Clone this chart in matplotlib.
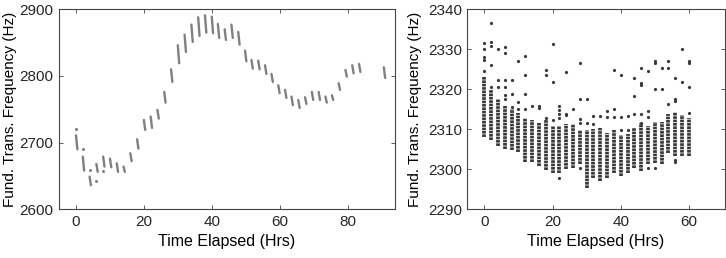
import numpy as np
from matplotlib import pyplot as plt

plt.rcParams['font.family'] = ['Liberation Sans', 'DejaVu Sans']
plt.rcParams['font.size'] = 11

# left panel: one short burst of readings roughly every 2 hrs (start / end of burst)
left_t = [0, 2, 4, 6, 8, 10, 12, 14, 16, 18, 20, 22, 24, 26, 28, 30, 32, 34, 36, 38,
          40, 41.8, 43.8, 45.8, 47.8, 49.8, 51.7, 53.7, 55.7, 57.6, 59.6, 61.6, 63.5,
          65.5, 67.5, 69.5, 71.5, 73.5, 75.4, 77.4, 79.4, 81.4, 83.4, 90.7]
left_hi = [2711, 2679, 2649, 2668, 2679, 2676, 2669, 2664, 2684, 2705, 2734, 2739, 2749,
           2776, 2810, 2846, 2862, 2877, 2888, 2891, 2889, 2878, 2870, 2877, 2866, 2838,
           2824, 2823, 2816, 2803, 2786, 2779, 2769, 2764, 2768, 2776, 2776, 2769, 2771,
           2789, 2809, 2816, 2818, 2813]
left_lo = [2690, 2658, 2636, 2656, 2664, 2663, 2656, 2656, 2672, 2691, 2719, 2722, 2736,
           2760, 2791, 2819, 2836, 2851, 2860, 2865, 2864, 2857, 2854, 2857, 2847, 2822,
           2811, 2810, 2803, 2791, 2774, 2767, 2756, 2752, 2758, 2764, 2764, 2760, 2764,
           2779, 2799, 2804, 2806, 2797]
left_dot_t = [0, 2, 4, 6, 8]
left_dot_f = [2720, 2691, 2659, 2642, 2657]
burst_len = 0.4

# right panel: dense column of readings every 2 hrs plus scattered outliers
right_t = list(range(0, 61, 2))
right_hi = [2323, 2319.8, 2317.5, 2315.7, 2315, 2314, 2312.8, 2312.2, 2311.5, 2312.2,
            2310.7, 2310.8, 2311.3, 2311.3, 2309.7, 2309.7, 2310, 2310.3, 2309, 2309.7,
            2308.6, 2308.8, 2310.3, 2311.5, 2310.7, 2311.9, 2311.9, 2313.8, 2314.3,
            2313.6, 2312.8]
right_lo = [2308, 2307.3, 2305.7, 2305, 2304.8, 2304.2, 2301.9, 2301.9, 2300.7, 2299.7,
            2299, 2299, 2300, 2300.3, 2301.3, 2295.3, 2297.8, 2297.1, 2297.8, 2299,
            2298.3, 2299, 2300.3, 2299.6, 2301.3, 2301.5, 2301.3, 2304, 2303.2, 2303.2,
            2303.2]
out_t = [0, 0, 0, 0, 0,
         2, 2, 2, 2, 2,
         4, 4, 4,
         6, 6, 6, 6, 6, 6,
         8, 8, 8,
         10, 10, 10,
         12, 12, 12, 12,
         14, 16, 16,
         18, 18, 18,
         20, 20, 20,
         22, 22, 22, 22, 22,
         24, 24, 24,
         26,
         28, 28, 28, 28, 28,
         30, 30,
         32, 32, 34, 36, 36,
         38, 38, 38,
         40, 40, 40,
         42, 42,
         44, 44, 44,
         46, 46, 46, 46, 46,
         48, 48, 48, 48,
         50, 50, 50, 50,
         52, 52,
         54, 54, 54,
         56, 56, 56, 56, 56,
         58, 58,
         60, 60, 60, 60]
out_f = [2331.5, 2330, 2328, 2327.3, 2324.5,
         2336.5, 2331.8, 2330.7, 2326, 2320.5,
         2330, 2322.3, 2320.5,
         2330.5, 2329, 2322.3, 2320.5, 2318.5, 2317.5,
         2322.3, 2318.8, 2315.5,
         2327, 2316.8, 2315,
         2328.3, 2323.5, 2318.8, 2315,
         2315.7, 2315.7, 2315.2,
         2324.7, 2323.5, 2312.7,
         2331.2, 2321.7, 2312.3,
         2315.7, 2314.7, 2313.7, 2312.7, 2297.8,
         2324.2, 2313.8, 2313.5,
         2315,
         2326.5, 2317.5, 2312.5, 2311.5, 2300.3,
         2317.5, 2311.5,
         2313.3, 2311.3, 2313.3, 2314.5, 2313.1,
         2324.7, 2315, 2313.1,
         2323.5, 2313.1, 2309.7,
         2313.3, 2309.7,
         2322.8, 2318.2, 2313.8,
         2325.2, 2321.5, 2321, 2313.8, 2311.6,
         2324.6, 2314.5, 2313.1, 2300.3,
         2327, 2326.5, 2320, 2300.3,
         2325.3, 2320,
         2327, 2325.3, 2316.2,
         2322.8, 2317.5, 2317, 2302.2, 2301.8,
         2330, 2321.8,
         2327, 2326.5, 2320.5, 2314]

fig = plt.figure(figsize=(7.26, 2.58), dpi=100)
ax1 = fig.add_axes([0.0813, 0.189, 0.4628, 0.775])
ax2 = fig.add_axes([0.6437, 0.189, 0.3545, 0.775])

# left: each burst drawn as a short slanted streak
for t, hi, lo in zip(left_t, left_hi, left_lo):
    ax1.plot([t, t + burst_len], [hi, lo], color='#808080', lw=1.7, solid_capstyle='round')
ax1.plot(left_dot_t, left_dot_f, 'o', color='#808080', ms=2.2, mew=0)
ax1.set_xlim(-5, 94)
ax1.set_ylim(2600, 2900)
ax1.set_xticks([0, 20, 40, 60, 80])
ax1.set_yticks([2600, 2700, 2800, 2900])

# right: dense dotted columns and the outliers
ax2.vlines(right_t, right_lo, right_hi, color='#383838', lw=2.7, linestyles=(0, (0.7, 0.2)))
ax2.plot(out_t, out_f, 'o', color='#383838', ms=2.3, mew=0)
ax2.set_xlim(-5, 70.5)
ax2.set_ylim(2290, 2340)
ax2.set_xticks([0, 20, 40, 60])
ax2.set_yticks([2290, 2300, 2310, 2320, 2330, 2340])

for ax, pad in ((ax1, 2), (ax2, 4)):
    ax.set_xlabel('Time Elapsed (Hrs)', fontsize=11.5, labelpad=4)
    ax.set_ylabel('Fund. Trans. Frequency (Hz)', labelpad=pad)
    ax.tick_params(direction='in', top=True, right=True, length=3, width=0.6,
                   color='#444444', labelcolor='#262626', pad=4)
    for s in ax.spines.values():
        s.set_color('#444444')
        s.set_linewidth(0.8)

fig.savefig('out.png', dpi=100)
